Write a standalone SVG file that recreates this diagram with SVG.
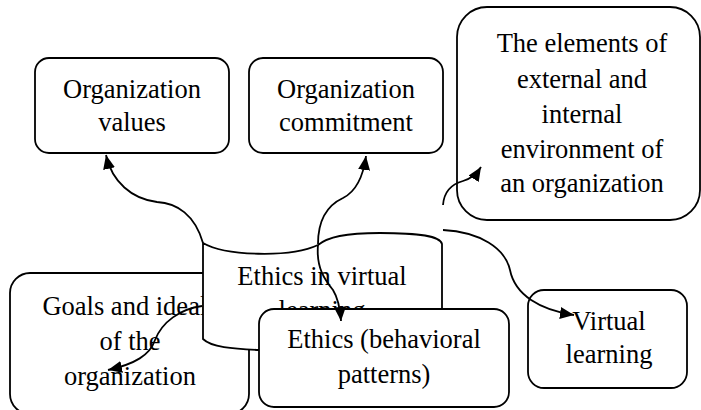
<svg xmlns="http://www.w3.org/2000/svg" width="701" height="410" viewBox="0 0 701 410">
<style>
.box{fill:#fff;stroke:#000;stroke-width:1.8}
.t{font-family:"Liberation Serif","Times New Roman",serif;font-size:26.5px;fill:#000;text-anchor:middle}
.c{fill:none;stroke:#000;stroke-width:1.8}
</style>
<defs>
<marker id="ah" viewBox="0 0 14 12" refX="14" refY="6" markerWidth="14" markerHeight="12" markerUnits="userSpaceOnUse" orient="auto">
<path d="M0,0 L14,6 L0,12 Z" fill="#000"/>
</marker>
</defs>
<rect width="701" height="410" fill="#fff"/>
<g id="org-values">
<rect class="box" x="35" y="58" width="194" height="95" rx="14"/>
<text class="t" x="132" y="98">Organization</text>
<text class="t" x="132" y="131">values</text>
</g>
<g id="org-commitment">
<rect class="box" x="249" y="58" width="194" height="95" rx="14"/>
<text class="t" x="346" y="98">Organization</text>
<text class="t" x="346" y="131">commitment</text>
</g>
<g id="environment">
<rect class="box" x="457" y="7" width="243" height="213" rx="30"/>
<text class="t" x="582" y="52">The elements of</text>
<text class="t" x="582" y="88">external and</text>
<text class="t" x="582" y="123">internal</text>
<text class="t" x="582" y="158">environment of</text>
<text class="t" x="582" y="192">an organization</text>
</g>
<g id="virtual-learning">
<rect class="box" x="528" y="290" width="159" height="98" rx="16"/>
<text class="t" x="609" y="330">Virtual</text>
<text class="t" x="609" y="363">learning</text>
</g>
<g id="goals">
<rect class="box" x="10" y="273" width="239" height="141" rx="20"/>
<text class="t" x="130" y="315">Goals and ideals</text>
<text class="t" x="130" y="350">of the</text>
<text class="t" x="130" y="385">organization</text>
</g>
<g id="ethics-virtual">
<path class="box" d="M203,243 C225,256 290,258 318,245 C328,237 345,233 380,233 C420,233 440,236 442,244 L442,345 C380,352 300,352 260,350 C232,349 211,347 203,339 Z"/>
<text class="t" x="322" y="285">Ethics in virtual</text>
<text class="t" x="322" y="319">learning</text>
</g>
<g id="ethics-behavioral">
<rect class="box" x="259" y="309" width="250" height="98" rx="15"/>
<text class="t" x="384" y="348">Ethics (behavioral</text>
<text class="t" x="384" y="383">patterns)</text>
</g>
<g id="connectors">
<path class="c" marker-end="url(#ah)" d="M203,243 C195,215 177,203 157,202 C132,199 112,182 106,155"/>
<path class="c" marker-end="url(#ah)" d="M318,244 C318,220 328,205 343,198 C355,192 363,178 366,156"/>
<path class="c" marker-end="url(#ah)" d="M318,245 C316,268 325,280 333,290 C338,298 340,307 341,321"/>
<path class="c" marker-end="url(#ah)" d="M443,205 C444,192 452,184 463,181 C470,179 476,175 481,167"/>
<path class="c" marker-end="url(#ah)" d="M443,230 C480,232 505,248 510,270 C515,295 540,310 574,315"/>
<path class="c" marker-end="url(#ah)" d="M202,306 C180,309 162,322 155,340 C150,355 135,364 108,370"/>
</g>
</svg>
